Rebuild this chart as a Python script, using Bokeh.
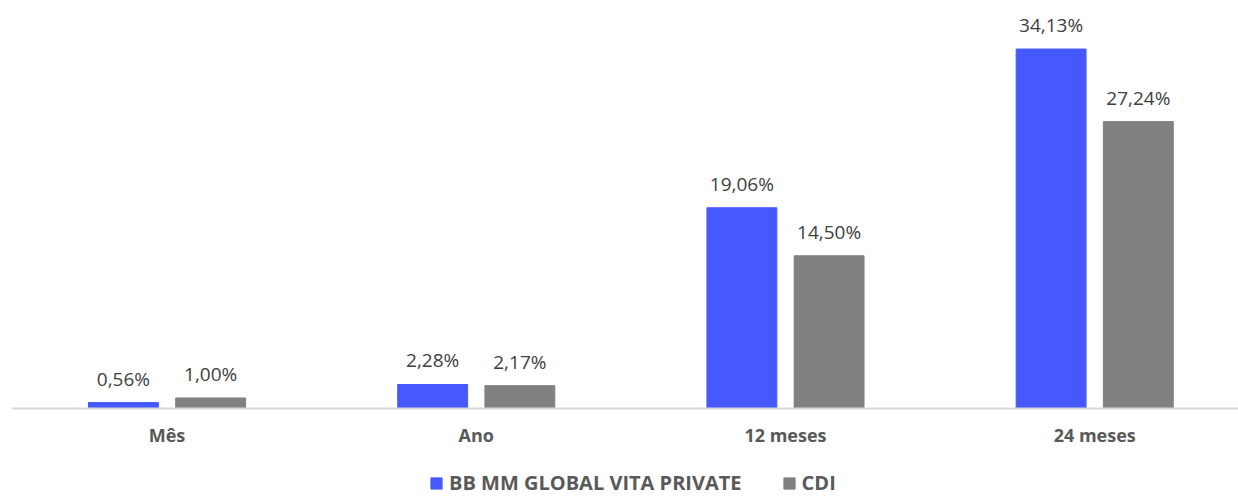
from bokeh.plotting import figure
from bokeh.layouts import column
from bokeh.models import ColumnDataSource, FixedTicker, Legend, LegendItem, Range1d
from bokeh.core.properties import value
from bokeh.embed import file_html
from bokeh.resources import INLINE

categories = ["Mês", "Ano", "12 meses", "24 meses"]
fund = [0.56, 2.28, 19.06, 34.13]
cdi = [1.00, 2.17, 14.50, 27.24]
fund_labels = ["0,56%", "2,28%", "19,06%", "34,13%"]
cdi_labels = ["1,00%", "2,17%", "14,50%", "27,24%"]
series_names = ["BB MM GLOBAL VITA PRIVATE", "CDI"]

FONT = "Open Sans"
BLUE = "#4559FF"
GRAY = "#808080"

xs = list(range(len(categories)))
off = 0.141
w = 0.226

src_a = ColumnDataSource(dict(x=[i - off for i in xs], top=fund, lab=fund_labels))
src_b = ColumnDataSource(dict(x=[i + off for i in xs], top=cdi, lab=cdi_labels))

p = figure(width=1238, height=458, output_backend="svg", toolbar_location=None,
           x_range=Range1d(-0.503, 3.465), y_range=Range1d(0, 37.98),
           min_border_left=11, min_border_right=0, min_border_top=8, min_border_bottom=50)
p.outline_line_color = None
p.grid.visible = False
p.yaxis.visible = False

ra = p.vbar(x="x", top="top", width=w, source=src_a, fill_color=BLUE, line_color=BLUE)
rb = p.vbar(x="x", top="top", width=w, source=src_b, fill_color=GRAY, line_color=GRAY)

for s in (src_a, src_b):
    p.text(x="x", y="top", text="lab", source=s, text_align="center", text_baseline="bottom",
           y_offset=-11, text_font=value(FONT), text_font_size="19px", text_color="#404040")

ax = p.xaxis[0]
ax.ticker = FixedTicker(ticks=xs)
ax.major_label_overrides = {i: c for i, c in zip(xs, categories)}
ax.major_tick_line_color = None
ax.minor_tick_line_color = None
ax.major_tick_in = 0
ax.major_tick_out = 0
ax.minor_tick_in = 0
ax.minor_tick_out = 0
ax.axis_line_color = "#D9D9D9"
ax.axis_line_width = 2
ax.major_label_text_font = FONT
ax.major_label_text_font_size = "18px"
ax.major_label_text_font_style = "bold"
ax.major_label_text_color = "#595959"
ax.major_label_standoff = 14

# legend strip (same series, drawn outside its visible range so only the legend shows)
q = figure(width=1238, height=38, output_backend="svg", toolbar_location=None,
           x_range=Range1d(-0.503, 3.465), y_range=Range1d(100, 101),
           min_border_left=0, min_border_right=0, min_border_top=0, min_border_bottom=0)
q.outline_line_color = None
q.grid.visible = False
q.axis.visible = False
la = q.vbar(x="x", top="top", width=w, source=src_a, fill_color=BLUE, line_color=BLUE)
lb = q.vbar(x="x", top="top", width=w, source=src_b, fill_color=GRAY, line_color=GRAY)

legend = Legend(items=[LegendItem(label=series_names[0], renderers=[la]),
                       LegendItem(label=series_names[1], renderers=[lb])],
                orientation="horizontal", location=(418, 0),
                label_text_font=FONT, label_text_font_size="20px", label_text_font_style="bold",
                label_text_color="#595959", glyph_width=14, glyph_height=14,
                spacing=40, label_standoff=6, border_line_color=None,
                background_fill_alpha=0, margin=0, padding=0)
q.add_layout(legend, "center")

open("out.html", "w").write(file_html(column(p, q, spacing=0), INLINE))
